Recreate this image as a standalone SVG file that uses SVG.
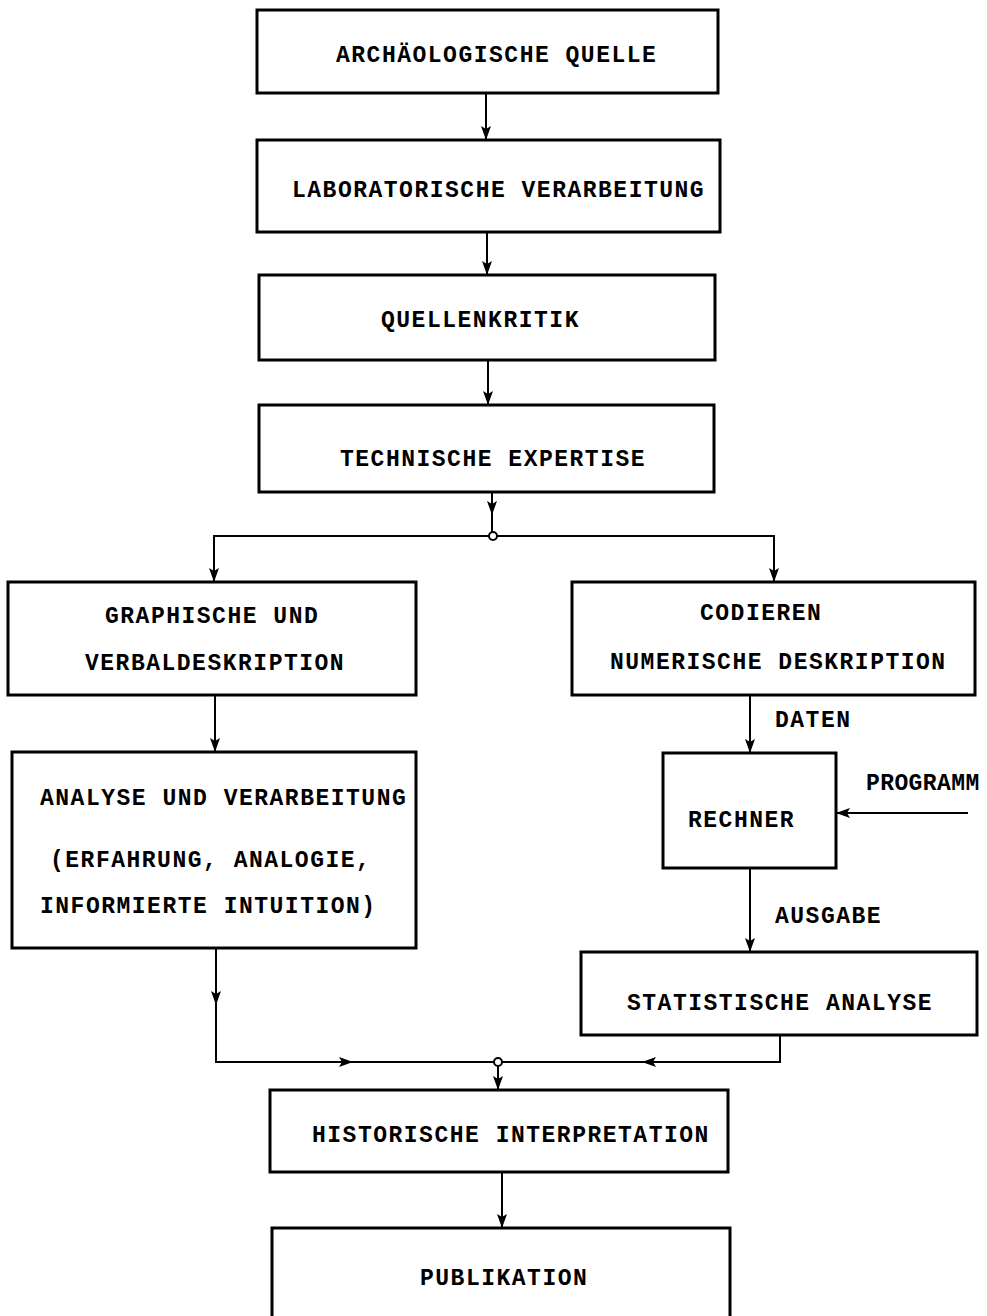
<svg xmlns="http://www.w3.org/2000/svg" width="987" height="1316" viewBox="0 0 987 1316">
<style>
.box{fill:none;stroke:#000;stroke-width:3}
.ln{fill:none;stroke:#000;stroke-width:2}
.t{font-family:"Liberation Mono","DejaVu Sans Mono",monospace;font-size:23px;font-weight:bold;letter-spacing:1.5px;fill:#000}
</style>
<defs>
<marker id="ah" markerUnits="userSpaceOnUse" markerWidth="14" markerHeight="10" viewBox="0 0 14 10" refX="13" refY="5" orient="auto">
<path d="M0,0 L14,5 L0,10 L3,5 Z" fill="#000"/>
</marker>
</defs>
<rect width="987" height="1316" fill="#fff"/>
<g id="connectors">
<line class="ln" x1="486" y1="93" x2="486" y2="139" marker-end="url(#ah)"/>
<line class="ln" x1="487" y1="232" x2="487" y2="274" marker-end="url(#ah)"/>
<line class="ln" x1="488" y1="360" x2="488" y2="404" marker-end="url(#ah)"/>
<line class="ln" x1="492" y1="492" x2="492" y2="514" marker-end="url(#ah)"/>
<line class="ln" x1="492" y1="510" x2="492" y2="532"/>
<circle cx="493" cy="536" r="4" fill="#fff" stroke="#000" stroke-width="2"/>
<path class="ln" d="M489,536 H214 V581" marker-end="url(#ah)"/>
<path class="ln" d="M497,536 H774 V581" marker-end="url(#ah)"/>
<line class="ln" x1="215" y1="695" x2="215" y2="751" marker-end="url(#ah)"/>
<line class="ln" x1="750" y1="695" x2="750" y2="752" marker-end="url(#ah)"/>
<line class="ln" x1="968" y1="813" x2="837" y2="813" marker-end="url(#ah)"/>
<line class="ln" x1="750" y1="868" x2="750" y2="951" marker-end="url(#ah)"/>
<line class="ln" x1="216" y1="948" x2="216" y2="1004" marker-end="url(#ah)"/>
<path class="ln" d="M216,1000 V1062 H352" marker-end="url(#ah)"/>
<line class="ln" x1="348" y1="1062" x2="494" y2="1062"/>
<path class="ln" d="M780,1035 V1062 H643" marker-end="url(#ah)"/>
<line class="ln" x1="647" y1="1062" x2="502" y2="1062"/>
<circle cx="498" cy="1062" r="4" fill="#fff" stroke="#000" stroke-width="2"/>
<line class="ln" x1="498" y1="1066" x2="498" y2="1089" marker-end="url(#ah)"/>
<line class="ln" x1="502" y1="1172" x2="502" y2="1227" marker-end="url(#ah)"/>
</g>
<g id="n1"><rect class="box" x="257" y="10" width="461" height="83"/><text class="t" x="336" y="62">ARCHÄOLOGISCHE QUELLE</text></g>
<g id="n2"><rect class="box" x="257" y="140" width="463" height="92"/><text class="t" x="292" y="197">LABORATORISCHE VERARBEITUNG</text></g>
<g id="n3"><rect class="box" x="259" y="275" width="456" height="85"/><text class="t" x="381" y="327">QUELLENKRITIK</text></g>
<g id="n4"><rect class="box" x="259" y="405" width="455" height="87"/><text class="t" x="340" y="466">TECHNISCHE EXPERTISE</text></g>
<g id="n5"><rect class="box" x="8" y="582" width="408" height="113"/><text class="t" x="105" y="623">GRAPHISCHE UND</text><text class="t" x="85" y="670">VERBALDESKRIPTION</text></g>
<g id="n6"><rect class="box" x="572" y="582" width="403" height="113"/><text class="t" x="700" y="620">CODIEREN</text><text class="t" x="610" y="669">NUMERISCHE DESKRIPTION</text></g>
<g id="n7"><rect class="box" x="12" y="752" width="404" height="196"/><text class="t" x="40" y="805">ANALYSE UND VERARBEITUNG</text><text class="t" x="50" y="867">(ERFAHRUNG, ANALOGIE,</text><text class="t" x="40" y="913">INFORMIERTE INTUITION)</text></g>
<g id="n8"><rect class="box" x="663" y="753" width="173" height="115"/><text class="t" x="688" y="827">RECHNER</text></g>
<g id="lbl-daten"><text class="t" x="775" y="727">DATEN</text></g>
<g id="lbl-programm"><text class="t" x="866" y="790" style="letter-spacing:0.4px">PROGRAMM</text></g>
<g id="lbl-ausgabe"><text class="t" x="775" y="923">AUSGABE</text></g>
<g id="n9"><rect class="box" x="581" y="952" width="396" height="83"/><text class="t" x="627" y="1010">STATISTISCHE ANALYSE</text></g>
<g id="n10"><rect class="box" x="270" y="1090" width="458" height="82"/><text class="t" x="312" y="1142">HISTORISCHE INTERPRETATION</text></g>
<g id="n11"><rect class="box" x="272" y="1228" width="458" height="98"/><text class="t" x="420" y="1285">PUBLIKATION</text></g>
</svg>
